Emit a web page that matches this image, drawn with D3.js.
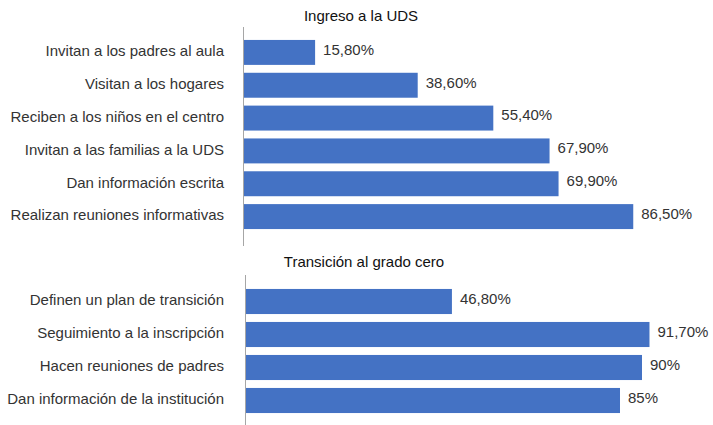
<!DOCTYPE html>
<html>
<head>
<meta charset="utf-8">
<script src="https://cdn.jsdelivr.net/npm/d3@7"></script>
<style>
  body { margin: 0; background: #fff; }
  svg { font-family: "Liberation Sans", Arial, sans-serif; }
  .cat { font-size: 15px; fill: #333; }
  .val { font-size: 15px; fill: #333; }
  .title { font-size: 15px; fill: #111; }
</style>
</head>
<body>
<svg id="chart" width="713" height="425"></svg>
<script>
// datos
let ingresoCats = ['Invitan a los padres al aula', 'Visitan a los hogares', 'Reciben a los niños en el centro',
  'Invitan a las familias a la UDS', 'Dan información escrita', 'Realizan reuniones informativas'];
let ingresoVals = [15.8, 38.6, 55.4, 67.9, 69.9, 86.5];

let transCats = ['Definen un plan de transición', 'Seguimiento a la inscripción',
  'Hacen reuniones de padres', 'Dan información de la institución'];
let transVals = [46.8, 91.7, 90, 85];

let svg = d3.select('#chart');
let fmt = d3.formatLocale({decimal: ',', thousands: '.', grouping: [3], currency: ['', '']});

function label(v){
    return Number.isInteger(v) ? v + '%' : fmt.format('.2f')(v) + '%';
}

function drawPanel(opts){
    let g = svg.append('g');
    let x = d3.scaleLinear().domain([0, 100]).range([opts.x0, opts.x0 + opts.w]);
    let y = d3.scaleBand().domain(opts.cats).range([opts.top, opts.bottom]).paddingInner(0.24).paddingOuter(0.12);

    g.append('text').attr('class', 'title')
        .attr('x', opts.titleX).attr('y', opts.titleY)
        .attr('text-anchor', 'middle').text(opts.title);

    g.selectAll('rect').data(opts.vals).enter().append('rect')
        .attr('x', x(0))
        .attr('y', (d, i) => y(opts.cats[i]))
        .attr('width', d => x(d) - x(0))
        .attr('height', y.bandwidth())
        .attr('fill', '#4472c4');

    g.selectAll('.val').data(opts.vals).enter().append('text')
        .attr('class', 'val')
        .attr('x', d => x(d) + 8)
        .attr('y', (d, i) => y(opts.cats[i]) + y.bandwidth() / 2)
        .attr('dy', '0.15em')
        .text(label);

    g.selectAll('.cat').data(opts.cats).enter().append('text')
        .attr('class', 'cat')
        .attr('x', 224)
        .attr('y', d => y(d) + y.bandwidth() / 2)
        .attr('dy', '0.25em')
        .attr('text-anchor', 'end')
        .text(d => d);

    g.append('line')
        .attr('x1', x(0) - 0.5).attr('x2', x(0) - 0.5)
        .attr('y1', opts.lineTop).attr('y2', opts.lineBottom)
        .attr('stroke', '#a6a6a6').attr('stroke-width', 1);
}

drawPanel({cats: ingresoCats, vals: ingresoVals, title: 'Ingreso a la UDS',
    x0: 244, w: 450, top: 36, bottom: 233, titleX: 361, titleY: 21,
    lineTop: 27, lineBottom: 246});

drawPanel({cats: transCats, vals: transVals, title: 'Transición al grado cero',
    x0: 246, w: 440, top: 285, bottom: 417, titleX: 364, titleY: 267,
    lineTop: 275, lineBottom: 425});
</script>
</body>
</html>
